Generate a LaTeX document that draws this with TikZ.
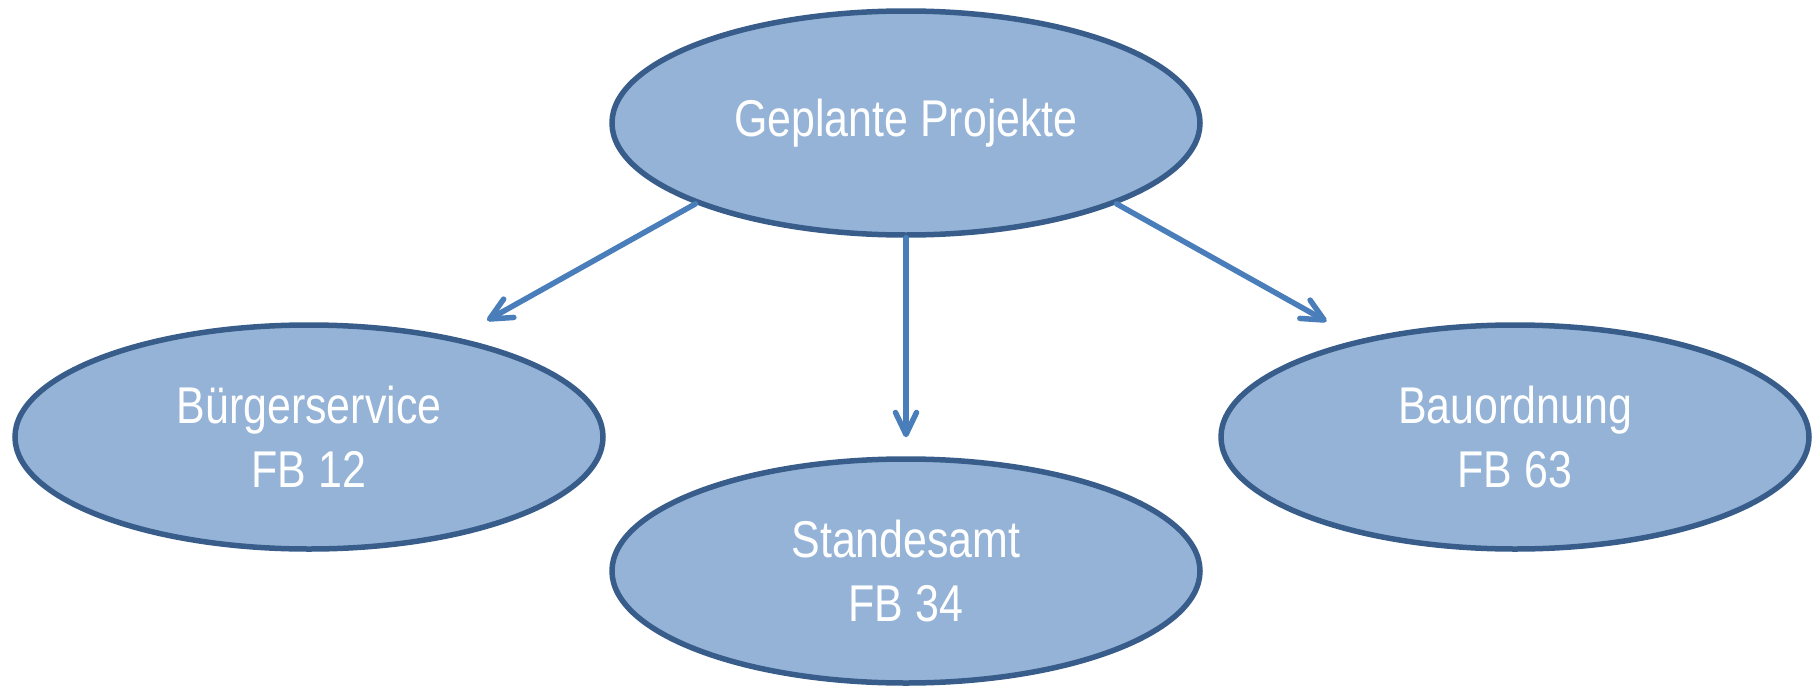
\documentclass[tikz,border=0pt]{standalone}
\usepackage{fontspec}
\setmainfont{Liberation Sans}
\newfontfamily\ellipsefont[FakeStretch=0.83]{Liberation Sans}
\usetikzlibrary{shapes.geometric,arrows.meta}
\definecolor{ellipseFill}{HTML}{95B3D7}
\definecolor{ellipseBorder}{HTML}{385D8A}
\definecolor{arrowBlue}{HTML}{4A7EBB}

\begin{document}
\begin{tikzpicture}[
			x=1pt, y=1pt,
			every node/.style={align=center},
			projectEllipse/.style={ellipse, draw=ellipseBorder, fill=ellipseFill, line width=5.5pt, minimum width=588pt, minimum height=224pt, inner sep=0pt, text=white, font=\ellipsefont\fontsize{51.7}{64}\selectfont},  % Style for all four ellipses
			projectArrow/.style={draw=arrowBlue, line width=5.5pt, line cap=round, -{Straight Barb[length=22pt, width=21pt, round]}}
		]
		\useasboundingbox (0,0) rectangle (1813,-688);

		% Top ellipse
		\node[projectEllipse] (geplant) at (906,-123) {Geplante Projekte};
		% Departments
		\node[projectEllipse] (buerger) at (309,-437) {Bürgerservice\\FB 12};
		\node[projectEllipse] (standes) at (906,-571) {Standesamt\\FB 34};
		\node[projectEllipse] (bau) at (1515,-437) {Bauordnung\\FB 63};

		\draw[projectArrow, shorten >=35pt] (geplant.201) -- (buerger.34);
		\draw[projectArrow, shorten >=19pt] (geplant.south) -- (standes.north);
		\draw[projectArrow, shorten >=37pt] (geplant.339) -- (bau.148);
	\end{tikzpicture}
\end{document}
